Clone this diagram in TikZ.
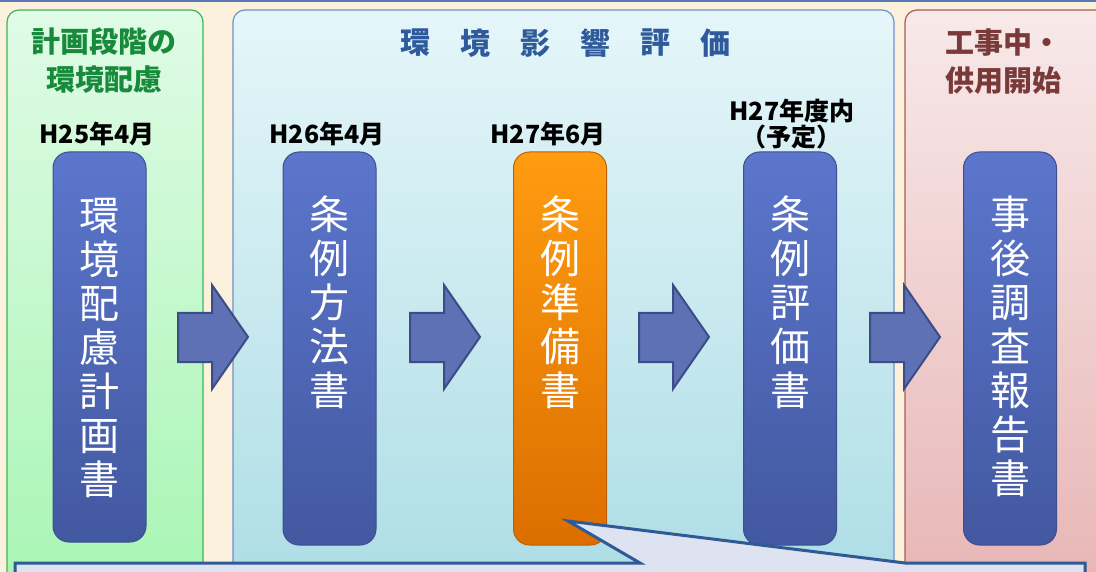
\documentclass[tikz,border=0pt]{standalone}
\usepackage{fontspec}
\newfontfamily\jp{Noto Sans CJK JP}
\definecolor{bgcream}{HTML}{FCF1DC}
\definecolor{topline}{HTML}{5A78B8}
\definecolor{gborder}{HTML}{3DB458}
\definecolor{gtop}{HTML}{E0FBE6}
\definecolor{gbot}{HTML}{A6F5B2}
\definecolor{bborder}{HTML}{6E90CC}
\definecolor{btop}{HTML}{E5F6F9}
\definecolor{bbot}{HTML}{ABDCE5}
\definecolor{pborder}{HTML}{A85A5A}
\definecolor{ptop}{HTML}{F8E9E9}
\definecolor{pbot}{HTML}{E7B4B4}
\definecolor{gtitle}{HTML}{178A3C}
\definecolor{btitle}{HTML}{2F5B9C}
\definecolor{ptitle}{HTML}{7A3A3A}
\definecolor{bartop}{HTML}{5B76CC}
\definecolor{barbot}{HTML}{4258A0}
\definecolor{barline}{HTML}{3C4F8E}
\definecolor{ortop}{HTML}{FF9C10}
\definecolor{orbot}{HTML}{DC6E00}
\definecolor{orline}{HTML}{C06000}
\definecolor{arrfill}{HTML}{5D71B4}
\definecolor{arrline}{HTML}{3C4C86}
\definecolor{callfill}{HTML}{DDE3F0}
\definecolor{callline}{HTML}{2F5A96}
\begin{document}
\begin{tikzpicture}[x=1pt,y=-1pt,
  panel/.style={rounded corners=12pt, line width=1.2pt},
  bar/.style={draw=barline, line width=1pt, rounded corners=16pt, top color=bartop, bottom color=barbot, minimum width=93pt, inner sep=0pt},
  obar/.style={bar, draw=orline, top color=ortop, bottom color=orbot},
  bartext/.style={anchor=north, inner sep=0pt, text=white, align=center, font=\jp\fontsize{40}{44}\selectfont},
  gtitlest/.style={inner sep=0pt, text=gtitle, font=\jp\bfseries\fontsize{29}{38}\selectfont, align=center},
  ptitlest/.style={inner sep=0pt, text=ptitle, font=\jp\bfseries\fontsize{29}{38}\selectfont, align=left},
  btitlest/.style={inner sep=0pt, text=btitle, font=\jp\bfseries\fontsize{30}{36}\selectfont},
  datest/.style={inner sep=0pt, text=black, font=\jp\bfseries\fontsize{25}{27}\selectfont, align=center},
  blockarrow/.style={fill=arrfill, draw=arrline, line width=2pt, line join=miter},
]
\useasboundingbox (0,0) rectangle (1096,572);
\clip (0,0) rectangle (1096,572);
\fill[bgcream] (0,0) rectangle (1096,572);
\fill[topline] (0,0) rectangle (1096,2);
% panels
\draw[panel, draw=gborder, top color=gtop, bottom color=gbot] (7,10) rectangle (203,610);
\draw[panel, draw=bborder, top color=btop, bottom color=bbot] (233,10) rectangle (894,610);
\draw[panel, draw=pborder, top color=ptop, bottom color=pbot] (905,10) rectangle (1110,610);
% titles
\node[gtitlest] (t1) at (104,61) {計画段階の\\環境配慮};
\foreach \c [count=\i] in {環,境,影,響,評,価}
  \node[btitlest] (t2\i) at (355+60*\i,43) {\c};
\node[ptitlest] (t3) at (1003,62) {工事中・\\供用開始};
% dates
\node[datest] (d1) at (97,134) {H25年4月};
\node[datest] (d2) at (327,134) {H26年4月};
\node[datest] (d3) at (548,134) {H27年6月};
\node[datest] (d4) at (792,111) {H27年度内};
\node[datest] (d4b) at (791,137) {（予定）};
% bars
\node[bar, minimum height=390pt] (b1) at (99.5,347) {};
\node[bar, minimum height=393pt] (b2) at (329.5,348.5) {};
\node[obar, minimum height=393pt] (b3) at (560,348.5) {};
\node[bar, minimum height=393pt] (b4) at (790,348.5) {};
\node[bar, minimum height=393pt] (b5) at (1010,348.5) {};
\node[bartext] (x1) at (99.5,198) {環\\境\\配\\慮\\計\\画\\書};
\node[bartext] (x2) at (329.5,196) {条\\例\\方\\法\\書};
\node[bartext] (x3) at (560,196) {条\\例\\準\\備\\書};
\node[bartext] (x4) at (790,196) {条\\例\\評\\価\\書};
\node[bartext] (x5) at (1010,196) {事\\後\\調\\査\\報\\告\\書};
% block arrows
\foreach \x in {178,410,639,870}
  \draw[blockarrow] (\x,313) -- (\x+34,313) -- (\x+34,285) -- (\x+70,337) -- (\x+34,389) -- (\x+34,362) -- (\x,362) -- cycle;
% callout
\coordinate (tip) at (568,521);
\draw[fill=callfill, draw=callline, line width=3pt, line join=miter]
  (15,600) -- (15,563) -- (640,563) -- (tip) -- (905,563) -- (1085,563) -- (1085,600);
\end{tikzpicture}
\end{document}
